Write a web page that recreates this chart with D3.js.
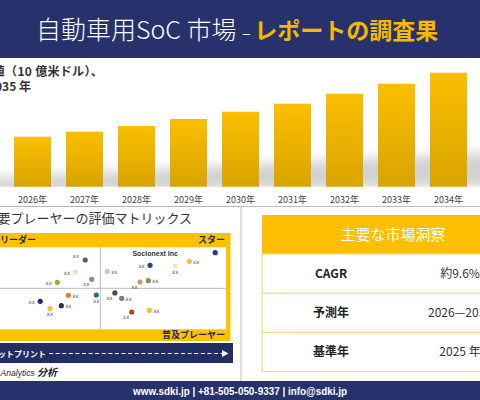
<!DOCTYPE html>
<html lang="ja">
<head>
<meta charset="UTF-8">
<title>自動車用SoC市場</title>
<script src="https://d3js.org/d3.v7.min.js"></script>
<style>
  body { margin: 0; background: #fff; }
  svg { display: block; font-family: "Noto Sans CJK JP", "Noto Sans", sans-serif; }
</style>
</head>
<body>
<div id="chart"></div>
<script>
// 市場規模 (10億米ドル)
const years = ["2026", "2027", "2028", "2029", "2030", "2031", "2032", "2033", "2034", "2035"];
const marketValues = [5.0, 5.5, 6.07, 6.77, 7.5, 8.3, 9.3, 10.3, 11.4, 12.5];

// 評価マトリックス (0-10 の評価点)
const playerX = [4.40, 4.01, 3.29, 4.66, 5.28, 3.73, 4.84, 5.58, 2.61, 3.00, 3.45, 9.57, 6.98, 7.98, 8.54, 6.58, 6.91, 5.85, 6.25, 6.95];
const playerY = [8.45, 6.99, 5.73, 6.10, 7.07, 4.15, 4.18, 4.43, 3.41, 2.51, 2.88, 9.34, 7.80, 7.72, 8.29, 5.77, 5.93, 3.78, 2.11, 2.32];
const playerNames = ["xx", "xx", "xx", "xx", "xx", "xx", "xx", "xx", "xx", "xx", "xx", "Socionext Inc", "xx", "xx", "xx", "xx", "xx", "xx", "xx", "xx"];
const labelSide = ["ul", "l", "l", "bl", "r", "r", "b", "bl", "l", "b", "r", "far", "l", "b", "r", "bl", "r", "r", "bl", "r"];
const dotColors = ["#6b4d94", "#efe5b4", "#b59c2e", "#7f9a6a", "#b8d2ad", "#e07a3a", "#1f6e8c", "#4a4a52",
  "#1f2b5b", "#f0c43a", "#2c2f4a", "#2a3a66", "#2d4575", "#f2e8b8", "#f0c24c", "#c39a6b",
  "#6e9c5a", "#7b7b82", "#c0392b", "#f0c030"];

// 主要な市場洞察
const insightKeys = ["CAGR", "予測年", "基準年"];
const insightValues = ["約9.6%", "2026—2035", "2025 年"];

const W = 480, H = 400;
const navy = "#27326c";
const gold = "#fdbf00";

const svg = d3.select("#chart").append("svg")
  .attr("width", W).attr("height", H);

const defs = svg.append("defs");
const grad = defs.append("linearGradient").attr("id", "barGrad")
  .attr("x1", 0).attr("y1", 0).attr("x2", 0).attr("y2", 1);
grad.append("stop").attr("offset", "0%").attr("stop-color", "#fbbf00");
grad.append("stop").attr("offset", "100%").attr("stop-color", "#d8a400");
defs.append("filter").attr("id", "blur")
  .attr("x", "-10%").attr("y", "-100%").attr("width", "120%").attr("height", "300%")
  .append("feGaussianBlur").attr("stdDeviation", 6);

// ヘッダー
svg.append("rect").attr("x", 0).attr("y", 0).attr("width", W).attr("height", 58).attr("fill", navy);
const title = svg.append("text").attr("x", 237).attr("y", 39).attr("text-anchor", "middle");
title.append("tspan").attr("fill", "#fff").attr("font-size", 25).attr("font-weight", 300).text("自動車用SoC 市場 ");
title.append("tspan").attr("fill", "#fff").attr("font-size", 16).text("– ");
title.append("tspan").attr("fill", "#f7b900").attr("font-size", 23).attr("font-weight", 700).text("レポートの調査果");

// 棒グラフ
svg.append("text").attr("x", 103).attr("y", 76).attr("text-anchor", "end")
  .attr("font-size", 12).attr("font-weight", 600).attr("fill", "#333")
  .attr("letter-spacing", 0.3).text("市場価値（10 億米ドル）、");
svg.append("text").attr("x", 31).attr("y", 91).attr("text-anchor", "end")
  .attr("font-size", 12).attr("font-weight", 600).attr("fill", "#333")
  .text("2026年－2035 年");

const x = d3.scaleBand().domain(years).range([6.5, 6.5 + 52 * years.length])
  .paddingInner(0.288).paddingOuter(0.144);
const y = d3.scaleLinear().domain([0, 12.5]).range([186.7, 61.7]);

// 影
svg.append("path")
  .attr("d", "M-20,178 L500,152 L500,186 L-20,193 Z")
  .attr("fill", "#b4b4b4").attr("opacity", 0.6).attr("filter", "url(#blur)");
svg.append("rect").attr("x", 0).attr("y", y(0)).attr("width", W).attr("height", 19).attr("fill", "#fff");

svg.selectAll(".bar").data(years).enter().append("rect")
  .attr("class", "bar")
  .attr("x", d => x(d))
  .attr("y", (d, i) => y(marketValues[i]))
  .attr("width", x.bandwidth())
  .attr("height", (d, i) => y(0) - y(marketValues[i]))
  .attr("fill", "url(#barGrad)");

const xAxis = svg.append("g").attr("transform", `translate(0,${y(0)})`)
  .call(d3.axisBottom(x).tickSize(0).tickPadding(10).tickFormat(d => d + "年"));
xAxis.select(".domain").remove();
xAxis.selectAll("text").attr("font-size", 9).attr("fill", "#444")
  .attr("font-family", "'Noto Sans CJK JP', sans-serif");

// 区切り線
svg.append("line").attr("x1", 0).attr("x2", 241).attr("y1", 206.5).attr("y2", 206.5)
  .attr("stroke", "#b5b5b5");

// 評価マトリックス
svg.append("text").attr("x", 192).attr("y", 223).attr("text-anchor", "end")
  .attr("font-size", 13).attr("fill", "#333").text("主要プレーヤーの評価マトリックス");

svg.append("rect").attr("x", -10).attr("y", 233).attr("width", 240.5).attr("height", 108).attr("fill", "#fcc200");
const mx = d3.scaleLinear().domain([0, 10]).range([-25.4, 226]);
const my = d3.scaleLinear().domain([0, 10]).range([329.3, 247.3]);
svg.append("rect").attr("x", -10).attr("y", my(10)).attr("width", mx(10) + 10)
  .attr("height", my(0) - my(10)).attr("fill", "#fff");
svg.append("line").attr("x1", mx(5)).attr("x2", mx(5)).attr("y1", my(10)).attr("y2", my(0))
  .attr("stroke", "#aaa").attr("stroke-width", 0.8);
svg.append("line").attr("x1", -10).attr("x2", mx(10)).attr("y1", my(5)).attr("y2", my(5))
  .attr("stroke", "#aaa").attr("stroke-width", 0.8);

const quad = svg.append("g").attr("font-size", 9).attr("font-weight", 700).attr("fill", "#1f2a5c");
quad.append("text").attr("x", 0).attr("y", 243).text("リーダー");
quad.append("text").attr("x", 225).attr("y", 243).attr("text-anchor", "end").text("スター");
quad.append("text").attr("x", 225).attr("y", 338).attr("text-anchor", "end").text("普及プレーヤー");

const players = playerX.map((v, i) => ({
  x: v, y: playerY[i], name: playerNames[i], side: labelSide[i], color: dotColors[i]
}));
const offsets = { l: [-8.5, 1], r: [7, 1], b: [0, 6], ul: [-9.5, -3.5], bl: [-5.5, 5], far: [-60, 1.5] };
const dots = svg.append("g");
dots.selectAll("circle").data(players).enter().append("circle")
  .attr("cx", d => mx(d.x))
  .attr("cy", d => my(d.y))
  .attr("r", 2.6)
  .attr("fill", d => d.color);
dots.selectAll("text").data(players).enter().append("text")
  .attr("x", d => mx(d.x) + offsets[d.side][0])
  .attr("y", d => my(d.y) + offsets[d.side][1])
  .attr("text-anchor", "middle").attr("dominant-baseline", "middle")
  .attr("font-family", d => d.side === "far" ? "'Liberation Sans', sans-serif" : "'DejaVu Sans Condensed', 'DejaVu Sans', sans-serif")
  .attr("font-size", d => d.side === "far" ? 7 : 6)
  .attr("font-weight", d => d.side === "far" ? 700 : 400)
  .attr("fill", d => d.side === "far" ? "#333" : "#555")
  .text(d => d.name);

// フットプリント帯
svg.append("rect").attr("x", -10).attr("y", 343).attr("width", 243).attr("height", 20).attr("fill", "#222d63");
svg.append("text").attr("x", 46).attr("y", 356.5).attr("text-anchor", "end")
  .attr("font-size", 8).attr("font-weight", 700).attr("fill", "#fff").text("フットプリント");
svg.append("line").attr("x1", 49).attr("x2", 224).attr("y1", 353.5).attr("y2", 353.5)
  .attr("stroke", "#fff").attr("stroke-width", 1).attr("stroke-dasharray", "4,2.6");
svg.append("path").attr("d", "M222,350 L228.5,353.5 L222,357 Z").attr("fill", "#fff");

const credit = svg.append("text").attr("x", 57).attr("y", 376).attr("text-anchor", "end")
  .attr("font-style", "italic").attr("fill", "#222");
credit.append("tspan").attr("font-family", "'Liberation Sans', sans-serif").attr("font-size", 8.5)
  .text("SDKI Analytics ");
credit.append("tspan").attr("font-size", 10).attr("font-weight", 700).text("分析");

// 主要な市場洞察
svg.append("rect").attr("x", 241).attr("y", 206.5).attr("width", 260).attr("height", 175)
  .attr("fill", "none").attr("stroke", "#bdbdbd");
svg.append("rect").attr("x", 262).attr("y", 215).attr("width", 230).attr("height", 39).attr("fill", gold);
svg.append("text").attr("x", 393).attr("y", 240).attr("text-anchor", "middle")
  .attr("font-size", 15).attr("fill", "#fff").text("主要な市場洞察");
const rowY = d3.scaleBand().domain(insightKeys).range([254, 371.5]);
svg.append("rect").attr("x", 262).attr("y", 254).attr("width", 230).attr("height", 117.5)
  .attr("fill", "none").attr("stroke", "#f0d98e").attr("stroke-width", 1.2);
const rows = svg.selectAll(".row").data(insightKeys).enter().append("g").attr("class", "row");
rows.filter((d, i) => i > 0).append("line")
  .attr("x1", 262).attr("x2", 492).attr("y1", d => rowY(d)).attr("y2", d => rowY(d))
  .attr("stroke", "#f0d98e").attr("stroke-width", 1.2);
rows.append("text").attr("x", 331).attr("y", d => rowY(d) + rowY.bandwidth() / 2 + 4.5)
  .attr("text-anchor", "middle").attr("font-size", 12).attr("font-weight", 700)
  .attr("fill", "#222").text(d => d);
rows.append("text").attr("x", 460).attr("y", d => rowY(d) + rowY.bandwidth() / 2 + 4.5)
  .attr("text-anchor", "middle").attr("font-size", 12).attr("fill", "#333")
  .text((d, i) => insightValues[i]);

// フッター
svg.append("rect").attr("x", 0).attr("y", 381).attr("width", W).attr("height", 19).attr("fill", navy);
svg.append("text").attr("x", 240).attr("y", 394.5).attr("text-anchor", "middle")
  .attr("font-family", "'Liberation Sans', sans-serif")
  .attr("font-size", 10).attr("font-weight", 700).attr("fill", "#fff")
  .attr("textLength", 214).attr("lengthAdjust", "spacingAndGlyphs")
  .text("www.sdki.jp | +81-505-050-9337 | info@sdki.jp");
</script>
</body>
</html>
